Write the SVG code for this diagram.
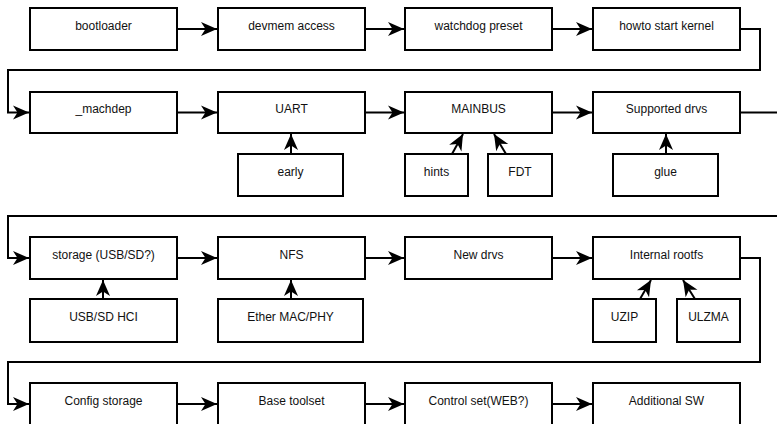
<svg xmlns="http://www.w3.org/2000/svg" width="777" height="424" viewBox="0 0 777 424">
<style>
.box{fill:#fff;stroke:#000;stroke-width:2}
.lbl{font-family:"Liberation Sans",Arial,sans-serif;font-size:12px;fill:#111;text-anchor:middle}
.edge{fill:none;stroke:#000;stroke-width:2;marker-end:url(#arr)}
</style>
<defs>
<marker id="arr" markerUnits="userSpaceOnUse" viewBox="-17 -8 18 16" refX="0" refY="0" markerWidth="18" markerHeight="16" orient="auto">
<path d="M0,0 L-16,-7 L-11.5,0 L-16,7 Z" fill="#000"/>
</marker>
</defs>
<rect width="777" height="424" fill="#fff"/>
<g id="connectors">
<path class="edge" d="M177,29 H217"/>
<path class="edge" d="M365,29 H404"/>
<path class="edge" d="M552,29 H592"/>
<path class="edge" d="M740,29 H760 V70 H8 V112.5 H29"/>
<path class="edge" d="M177,112.5 H217"/>
<path class="edge" d="M365,112.5 H404"/>
<path class="edge" d="M552,112.5 H592"/>
<path class="edge" d="M740,112.5 H790 V216 H8 V258 H29"/>
<path class="edge" d="M177,258 H217"/>
<path class="edge" d="M365,258 H404"/>
<path class="edge" d="M552,258 H592"/>
<path class="edge" d="M740,258 H760 V362 H8 V404 H29"/>
<path class="edge" d="M177,404 H217"/>
<path class="edge" d="M365,404 H404"/>
<path class="edge" d="M552,404 H592"/>
<path class="edge" d="M291,154 V134"/>
<path class="edge" d="M452,154 L463,134"/>
<path class="edge" d="M506,154 L494,134"/>
<path class="edge" d="M666,154 V134"/>
<path class="edge" d="M103,299 V280"/>
<path class="edge" d="M291,299 V280"/>
<path class="edge" d="M640,299 L651,280"/>
<path class="edge" d="M695,299 L683,280"/>
</g>
<g id="n-bootloader"><rect class="box" x="30" y="8" width="147" height="42"/><text class="lbl" x="103.5" y="30">bootloader</text></g>
<g id="n-devmem"><rect class="box" x="218" y="8" width="147" height="42"/><text class="lbl" x="291.5" y="30">devmem access</text></g>
<g id="n-watchdog"><rect class="box" x="405" y="8" width="147" height="42"/><text class="lbl" x="478.5" y="30">watchdog preset</text></g>
<g id="n-howto"><rect class="box" x="593" y="8" width="147" height="42"/><text class="lbl" x="666.5" y="30">howto start kernel</text></g>
<g id="n-machdep"><rect class="box" x="30" y="92" width="147" height="41"/><text class="lbl" x="103.5" y="113">_machdep</text></g>
<g id="n-uart"><rect class="box" x="218" y="92" width="147" height="41"/><text class="lbl" x="291.5" y="113">UART</text></g>
<g id="n-mainbus"><rect class="box" x="405" y="92" width="147" height="41"/><text class="lbl" x="478.5" y="113">MAINBUS</text></g>
<g id="n-supported"><rect class="box" x="593" y="92" width="147" height="41"/><text class="lbl" x="666.5" y="113">Supported drvs</text></g>
<g id="n-early"><rect class="box" x="238" y="154" width="105" height="42"/><text class="lbl" x="290.5" y="176">early</text></g>
<g id="n-hints"><rect class="box" x="405" y="154" width="63" height="42"/><text class="lbl" x="436.5" y="176">hints</text></g>
<g id="n-fdt"><rect class="box" x="488" y="154" width="64" height="42"/><text class="lbl" x="520" y="176">FDT</text></g>
<g id="n-glue"><rect class="box" x="613" y="154" width="105" height="42"/><text class="lbl" x="665.5" y="176">glue</text></g>
<g id="n-storage"><rect class="box" x="30" y="237" width="147" height="42"/><text class="lbl" x="103.5" y="259">storage (USB/SD?)</text></g>
<g id="n-nfs"><rect class="box" x="218" y="237" width="147" height="42"/><text class="lbl" x="291.5" y="259">NFS</text></g>
<g id="n-newdrvs"><rect class="box" x="405" y="237" width="147" height="42"/><text class="lbl" x="478.5" y="259">New drvs</text></g>
<g id="n-rootfs"><rect class="box" x="593" y="237" width="147" height="42"/><text class="lbl" x="666.5" y="259">Internal rootfs</text></g>
<g id="n-usbhci"><rect class="box" x="30" y="299" width="147" height="43"/><text class="lbl" x="103.5" y="321">USB/SD HCI</text></g>
<g id="n-ether"><rect class="box" x="218" y="299" width="145" height="43"/><text class="lbl" x="290.5" y="321">Ether MAC/PHY</text></g>
<g id="n-uzip"><rect class="box" x="593" y="299" width="63" height="43"/><text class="lbl" x="624.5" y="321">UZIP</text></g>
<g id="n-ulzma"><rect class="box" x="677" y="299" width="63" height="43"/><text class="lbl" x="708.5" y="321">ULZMA</text></g>
<g id="n-config"><rect class="box" x="30" y="383" width="147" height="44"/><text class="lbl" x="103.5" y="405">Config storage</text></g>
<g id="n-base"><rect class="box" x="218" y="383" width="147" height="44"/><text class="lbl" x="291.5" y="405">Base toolset</text></g>
<g id="n-control"><rect class="box" x="405" y="383" width="147" height="44"/><text class="lbl" x="478.5" y="405">Control set(WEB?)</text></g>
<g id="n-additional"><rect class="box" x="593" y="383" width="147" height="44"/><text class="lbl" x="666.5" y="405">Additional SW</text></g>
</svg>
